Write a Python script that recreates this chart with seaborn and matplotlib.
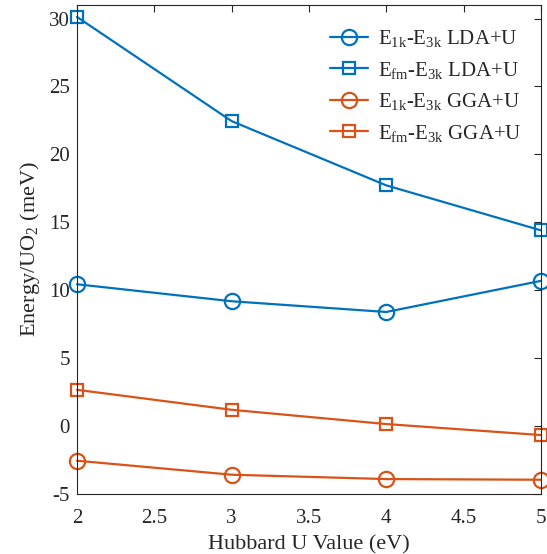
import matplotlib
matplotlib.use("Agg")
import matplotlib.pyplot as plt
import matplotlib.ticker as mticker
import seaborn as sns

# Hubbard U values and energy differences (meV per UO2)
hubbard_u = [2, 3, 4, 5]
lda_1k_3k = [10.44, 9.19, 8.40, 10.69]
lda_fm_3k = [30.12, 22.45, 17.72, 14.41]
gga_1k_3k = [-2.55, -3.58, -3.90, -3.95]
gga_fm_3k = [2.67, 1.20, 0.15, -0.66]

labels = [r"E$_{\rm 1k}$-E$_{\rm 3k}$ LDA+U",
          r"E$_{\rm fm}$-E$_{\rm 3k}$ LDA+U",
          r"E$_{\rm 1k}$-E$_{\rm 3k}$ GGA+U",
          r"E$_{\rm fm}$-E$_{\rm 3k}$ GGA+U"]

sns.set_theme(style="white")
plt.rcParams["font.family"] = ["Liberation Serif", "DejaVu Serif"]
plt.rcParams["mathtext.fontset"] = "custom"
plt.rcParams["mathtext.rm"] = "Liberation Serif"
plt.rcParams["mathtext.it"] = "Liberation Serif:italic"
plt.rcParams["axes.unicode_minus"] = False

blue = "#0072BD"
orange = "#D95319"

fig = plt.figure(figsize=(5.47, 5.54), dpi=100)
ax = fig.add_axes([0.1408, 0.1083, 0.848, 0.8827])

series = [(lda_1k_3k, blue, "o", 11), (lda_fm_3k, blue, "s", 9),
          (gga_1k_3k, orange, "o", 11), (gga_fm_3k, orange, "s", 9)]
for (vals, col, mk, ms), lab in zip(series, labels):
    sns.lineplot(x=hubbard_u, y=vals, ax=ax, color=col, marker=mk, markersize=ms,
                 markerfacecolor="none", markeredgecolor=col, markeredgewidth=1.6,
                 linewidth=1.6, label=lab, clip_on=False)

ax.set_xlim(2, 5)
ax.set_ylim(-5, 31)
ax.set_xticks([2, 2.5, 3, 3.5, 4, 4.5, 5])
ax.set_yticks(range(-5, 31, 5))
ax.xaxis.set_major_formatter(mticker.FormatStrFormatter("%g"))
ax.tick_params(direction="in", top=True, right=True, length=5, width=0.8,
               labelsize=15, color="#262626", labelcolor="#262626")
ax.tick_params(axis="x", pad=11)
ax.tick_params(axis="y", pad=5)
for sp in ax.spines.values():
    sp.set_color("#262626")
    sp.set_linewidth(0.8)

ax.set_xlabel("Hubbard U Value (eV)", fontsize=16, color="#262626", labelpad=5)
ax.set_ylabel("Energy/UO$_2$ (meV)", fontsize=16, color="#262626", labelpad=5)

ax.legend(loc="upper right", frameon=False, fontsize=15, handlelength=1.8,
          labelspacing=0.5, borderaxespad=0.3, handletextpad=0.5,
          bbox_to_anchor=(0.99, 0.982))

fig.savefig("out.png", dpi=100)
